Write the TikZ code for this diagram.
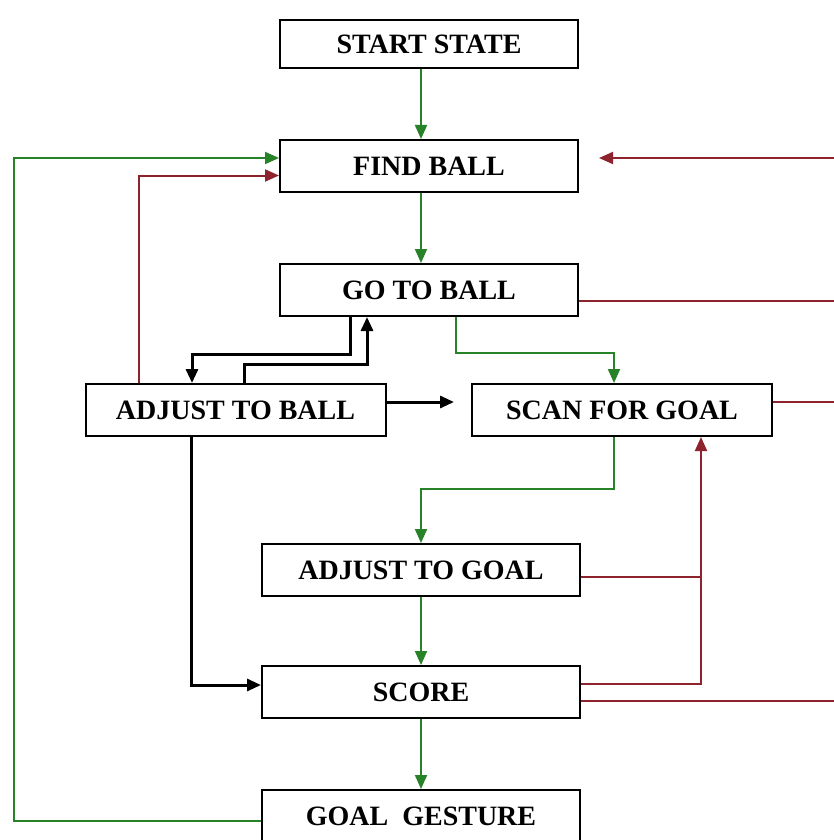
\documentclass[tikz,border=0pt]{standalone}
\usepackage{fontspec}
\setmainfont{Liberation Serif}
\usepackage{xcolor}
\usepackage{tikz}
\usetikzlibrary{arrows.meta}
\usetikzlibrary{positioning}
\definecolor{flowgreen}{RGB}{40,130,40}
\definecolor{flowred}{RGB}{140,35,45}
\begin{document}
\begin{tikzpicture}[
  x=0.5pt, y=-0.5pt,
  box/.style={draw, line width=1pt, minimum width=149pt, minimum height=24pt,
    inner sep=0pt, font=\bfseries\fontsize{14}{16}\selectfont},
  widebox/.style={box, minimum width=159pt, minimum height=26pt},
  greenarrow/.style={flowgreen, line width=1pt, -{Triangle[length=7pt, width=6pt]}},
  redline/.style={flowred, line width=1pt},
  redarrow/.style={redline, -{Triangle[length=7pt, width=6pt]}},
  blackarrow/.style={black, line width=1.5pt, -{Triangle[length=7pt, width=6pt]}},
  node distance=35pt
]
\useasboundingbox (0,0) rectangle (834,840);
\node[box] (start) at (429,44) {START STATE};
\node[box, minimum height=26pt] (find) [below=of start] {FIND BALL};
\node[box, minimum height=26pt] (go) [below=of find] {GO TO BALL};
\node[box, minimum width=150pt, minimum height=26pt] (adjb) at (235.5,410) {ADJUST TO BALL};
\node[box, minimum width=150pt, minimum height=26pt] (scan) at (622,410) {SCAN FOR GOAL};
\node[widebox] (adjg) at (421,570) {ADJUST TO GOAL};
\node[widebox] (score) [below=34pt of adjg] {SCORE};
\node[widebox] (gesture) [below=35pt of score] {GOAL\ \ GESTURE};
\coordinate (bus) at (834,0);
\coordinate (join) at ([xshift=39.5pt]scan.south);

% main green chain
\draw[greenarrow] (start.south -| adjg) -- (find.north -| adjg);
\draw[greenarrow] (find.south -| adjg) -- (go.north -| adjg);
\draw[greenarrow] ([xshift=13.5pt]go.south) -- ++(0,36) -| ([xshift=-4pt]scan.north);
\draw[greenarrow] ([xshift=-4pt]scan.south) -- ++(0,52) -| (adjg.north);
\draw[greenarrow] (adjg) -- (score);
\draw[greenarrow] (score) -- (gesture);
\draw[greenarrow] ([yshift=-2.5pt]gesture.west) -- ++(-247,0) |- ([yshift=4pt]find.west);

% black
\draw[blackarrow] ([xshift=-39.5pt]go.south) -- ++(0,37) -| ([xshift=-21.75pt]adjb.north);
\draw[blackarrow] ([xshift=4.25pt]adjb.north) -- ++(0,-19) -| ([xshift=-31pt]go.south);
\draw[blackarrow] ([yshift=4pt]adjb.east) -- ([yshift=4pt,xshift=-8.5pt]scan.west);
\draw[blackarrow] ([xshift=-22.25pt]adjb.south) |- ([yshift=3.5pt]score.west);

% red
\draw[redarrow] ([xshift=27pt]adjb.north west) |- ([yshift=-4.75pt]find.west);
\draw[redarrow] ([yshift=4pt]find.east -| bus) -- ([xshift=10pt,yshift=4pt]find.east);
\draw[redline] ([yshift=-5.25pt]go.east) -- ([yshift=-5.25pt]go.east -| bus);
\draw[redline] ([yshift=4pt]scan.east) -- ([yshift=4pt]scan.east -| bus);
\draw[redline] ([yshift=-4.5pt]score.east) -- ([yshift=-4.5pt]score.east -| bus);
\draw[redarrow] ([yshift=4pt]score.east) -| (join);
\draw[redline] ([yshift=-3.5pt]adjg.east) -- ([yshift=-3.5pt]adjg.east -| join);
\end{tikzpicture}
\end{document}
